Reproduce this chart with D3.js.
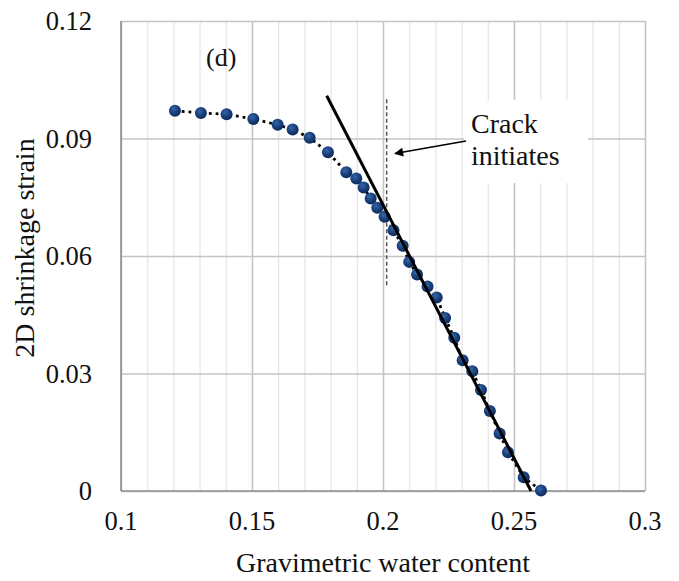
<!DOCTYPE html>
<html>
<head>
<meta charset="utf-8">
<script src="https://cdn.jsdelivr.net/npm/d3@7"></script>
<style>
  html, body { margin: 0; padding: 0; background: #fff; }
  svg { display: block; }
  svg text { font-family: "Liberation Serif", "DejaVu Serif", "Times New Roman", serif; }
</style>
</head>
<body>
<svg id="chart" width="679" height="581"></svg>
<script>
// ---- data ----
const waterContent = [0.1206, 0.1305, 0.1403, 0.1505, 0.1598, 0.1655, 0.1720, 0.1790, 0.1860, 0.1898,
  0.1926, 0.1953, 0.1978, 0.2006, 0.2040, 0.2075, 0.2100, 0.2130, 0.2170, 0.2205,
  0.2237, 0.2272, 0.2304, 0.2341, 0.2374, 0.2408, 0.2445, 0.2477, 0.2537, 0.2603];
const shrinkageStrain = [0.0971, 0.0965, 0.0962, 0.0950, 0.0935, 0.0923, 0.0902, 0.0865, 0.0814, 0.0798,
  0.0775, 0.0747, 0.0723, 0.0700, 0.0666, 0.0626, 0.0585, 0.0553, 0.0522, 0.0494,
  0.0442, 0.0391, 0.0334, 0.0306, 0.0258, 0.0204, 0.0147, 0.0099, 0.0035, 0.0001];
const trendX = [0.1785, 0.2565];
const trendY = [0.1009, 0.0];
const crackX = [0.2014, 0.2014];
const crackY = [0.1000, 0.0520];
const xTicks = [0.1, 0.15, 0.2, 0.25, 0.3];
const xTickLabels = ["0.1", "0.15", "0.2", "0.25", "0.3"];
const yTicks = [0, 0.03, 0.06, 0.09, 0.12];
const yTickLabels = ["0", "0.03", "0.06", "0.09", "0.12"];
const xMinorTicks = d3.range(0.1, 0.3001, 0.01);
const xTitle = "Gravimetric water content";
const yTitle = "2D shrinkage strain";
const panelLabel = "(d)";
const annotationLines = ["Crack", "initiates"];

// ---- layout ----
const L = 121, R = 645, T = 21, B = 491;
const svg = d3.select("#chart");
const x = d3.scaleLinear().domain([0.1, 0.3]).range([L, R]);
const y = d3.scaleLinear().domain([0, 0.12]).range([B, T]);
const FONT = "Liberation Serif, DejaVu Serif, Times New Roman, serif";

const defs = svg.append("defs");
const grad = defs.append("radialGradient").attr("id", "dotGrad")
  .attr("cx", "40%").attr("cy", "35%").attr("r", "65%");
grad.append("stop").attr("offset", "0%").attr("stop-color", "#3566a6");
grad.append("stop").attr("offset", "55%").attr("stop-color", "#1a417d");
grad.append("stop").attr("offset", "100%").attr("stop-color", "#0c2a5a");
defs.append("marker").attr("id", "arrowHead")
  .attr("viewBox", "0 0 10 10").attr("refX", 9).attr("refY", 5)
  .attr("markerWidth", 11).attr("markerHeight", 9).attr("markerUnits", "userSpaceOnUse")
  .attr("orient", "auto")
  .append("path").attr("d", "M0,0 L10,5 L0,10 Z").attr("fill", "#000");

// minor vertical gridlines
svg.append("g")
  .attr("transform", `translate(0,${B})`)
  .call(d3.axisBottom(x).tickValues(xMinorTicks).tickSize(-(B - T)).tickFormat(""))
  .call(g => g.select(".domain").remove())
  .call(g => g.selectAll("line").attr("stroke", "#e6e6e6").attr("stroke-width", 1.3));

// major vertical gridlines
svg.append("g")
  .attr("transform", `translate(0,${B})`)
  .call(d3.axisBottom(x).tickValues(xTicks).tickSize(-(B - T)).tickFormat(""))
  .call(g => g.select(".domain").remove())
  .call(g => g.selectAll("line").attr("stroke", "#c4c4c4").attr("stroke-width", 1.5));

// horizontal gridlines
svg.append("g")
  .attr("transform", `translate(${L},0)`)
  .call(d3.axisLeft(y).tickValues(yTicks).tickSize(-(R - L)).tickFormat(""))
  .call(g => g.select(".domain").remove())
  .call(g => g.selectAll("line").attr("stroke", "#c4c4c4").attr("stroke-width", 1.5));

// white box behind annotation
svg.append("rect").attr("x", 464).attr("y", 100).attr("width", 124).attr("height", 83).attr("fill", "#fff");

// axis lines (left & bottom)
svg.append("line").attr("x1", L).attr("x2", L).attr("y1", T).attr("y2", B)
  .attr("stroke", "#8f8f8f").attr("stroke-width", 1.6);
svg.append("line").attr("x1", L).attr("x2", R).attr("y1", B).attr("y2", B)
  .attr("stroke", "#8f8f8f").attr("stroke-width", 1.6);

// tick labels
svg.append("g").selectAll("text").data(xTicks).join("text")
  .attr("x", d => x(d)).attr("y", 530).attr("font-family", FONT)
  .attr("text-anchor", "middle").attr("font-size", 26.5).attr("fill", "#111")
  .text((d, i) => xTickLabels[i]);
svg.append("g").selectAll("text").data(yTicks).join("text")
  .attr("x", 92).attr("y", d => y(d) + 9).attr("font-family", FONT)
  .attr("text-anchor", "end").attr("font-size", 26.5).attr("fill", "#111")
  .text((d, i) => yTickLabels[i]);

// axis titles
svg.append("text").attr("x", 383).attr("y", 572).attr("text-anchor", "middle").attr("font-family", FONT)
  .attr("font-size", 28).attr("fill", "#111").text(xTitle);
svg.append("text").attr("transform", "translate(34,248) rotate(-90)").attr("text-anchor", "middle")
  .attr("font-family", FONT).attr("font-size", 28).attr("fill", "#111").text(yTitle);

// crack initiation dashed line
svg.append("line")
  .attr("x1", x(crackX[0])).attr("x2", x(crackX[1]))
  .attr("y1", y(crackY[0])).attr("y2", y(crackY[1]))
  .attr("stroke", "#555").attr("stroke-width", 1.5).attr("stroke-dasharray", "4,2.5");

// data series dotted line
const pts = waterContent.map((w, i) => [w, shrinkageStrain[i]]);
svg.append("path").datum(pts)
  .attr("d", d3.line().x(d => x(d[0])).y(d => y(d[1])))
  .attr("fill", "none").attr("stroke", "#000").attr("stroke-width", 2.8)
  .attr("stroke-dasharray", "2.8,4");

// markers
svg.append("g").selectAll("circle").data(pts).join("circle")
  .attr("cx", d => x(d[0])).attr("cy", d => y(d[1])).attr("r", 6)
  .attr("fill", "url(#dotGrad)");

// trend line
svg.append("line")
  .attr("x1", x(trendX[0])).attr("y1", y(trendY[0]))
  .attr("x2", x(trendX[1])).attr("y2", y(trendY[1]))
  .attr("stroke", "#000").attr("stroke-width", 3);

// panel label
svg.append("text").attr("x", 206).attr("y", 66).attr("font-family", FONT)
  .attr("font-size", 26).attr("fill", "#111").text(panelLabel);

// annotation
svg.append("g").selectAll("text").data(annotationLines).join("text")
  .attr("x", 471).attr("y", (d, i) => 133 + i * 32).attr("font-family", FONT)
  .attr("font-size", 28).attr("fill", "#111").text(d => d);
svg.append("line").attr("x1", 466).attr("y1", 141).attr("x2", 395).attr("y2", 153.5)
  .attr("stroke", "#000").attr("stroke-width", 1.6).attr("marker-end", "url(#arrowHead)");
</script>
</body>
</html>
